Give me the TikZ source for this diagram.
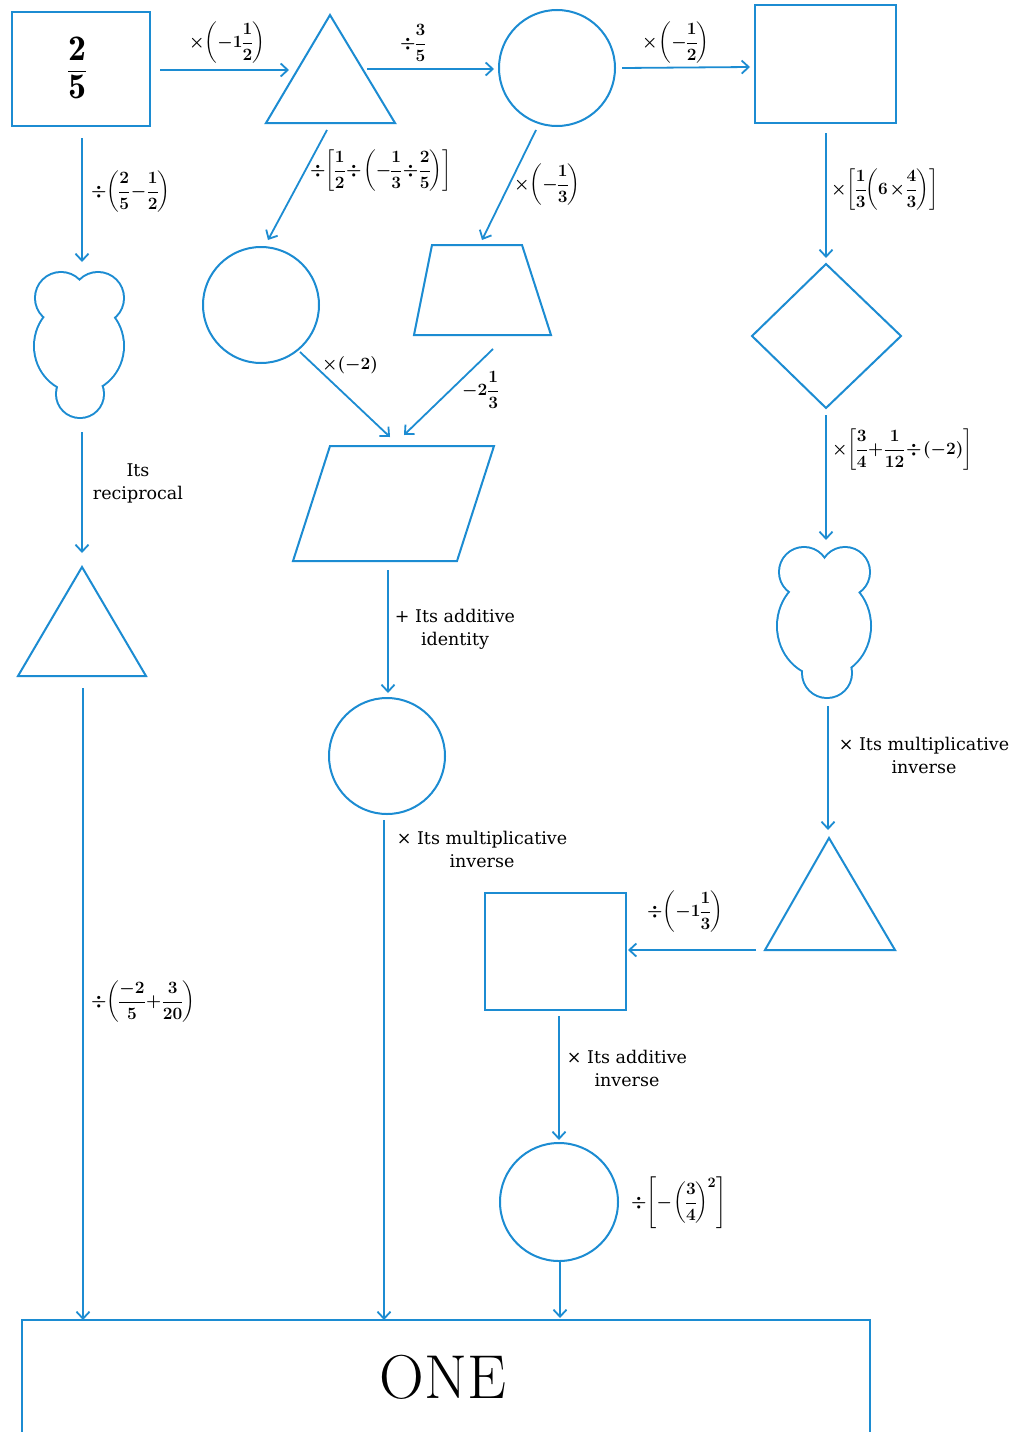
\documentclass[tikz,border=0pt]{standalone}
\usepackage{amsmath}
\usepackage{fontspec}
\newfontfamily\lblfont{DejaVu Serif}
\usetikzlibrary{arrows.meta}
\definecolor{ln}{RGB}{28,140,210}
\newcommand\mtight{\boldmath\medmuskip=1.5mu\thickmuskip=2mu\thinmuskip=1mu\nulldelimiterspace=0pt}
\begin{document}
\begin{tikzpicture}[x=1pt,y=-1pt,
  shp/.style={draw=ln,line width=2pt},
  arr/.style={draw=ln,line width=1.8pt,-{Straight Barb[length=7pt,width=13pt,line width=1.8pt]}},
  lbl/.style={font=\lblfont\fontsize{17.5}{23}\selectfont,align=center,inner sep=0pt},
  mlbl/.style={font=\fontsize{19}{22}\selectfont\mtight,inner sep=0pt,anchor=west}]
\useasboundingbox[fill=white] (0,0) rectangle (1024,1432);

% ---------- shapes ----------
\draw[shp] (12,12) rectangle (150,126);
\node[font=\fontsize{36}{38}\selectfont,inner sep=0pt] (v25) at (77,68) {$\displaystyle\frac{\mathbf{2}}{\mathbf{5}}$};
\draw[shp] (330,15) -- (395,123) -- (266,123) -- cycle;
\draw[shp] (557,68) circle[radius=58];
\draw[shp] (755,5) rectangle (896,123);
\draw[shp] (261,305) circle[radius=58];
\draw[shp] (432,245) -- (522,245) -- (551,335) -- (414,335) -- cycle;
\draw[shp] (826,264) -- (901,336) -- (826,408) -- (752,336) -- cycle;
\draw[shp] (330,446) -- (494,446) -- (457,561) -- (293,561) -- cycle;
\draw[shp] (82,567) -- (146,676) -- (18,676) -- cycle;
\draw[shp] (387,756) circle[radius=58];
\draw[shp] (829,838) -- (895,950) -- (765,950) -- cycle;
\draw[shp] (485,893) rectangle (626,1010);
\draw[shp] (559,1202) circle[radius=59];
\draw[shp] (22,1440) -- (22,1320) -- (870,1320) -- (870,1440);
\node[font=\fontsize{62}{64}\selectfont,inner sep=0pt] (one) at (443,1377) {ONE};

% blobs: stroke the union, then fill its inside
\draw[ln,line width=4pt] (61,298) circle[radius=25] (98,298) circle[radius=25]
  (79,346) ellipse[x radius=44,y radius=46] (80,394) circle[radius=23];
\fill[white] (61,298) circle[radius=25] (98,298) circle[radius=25]
  (79,346) ellipse[x radius=44,y radius=46] (80,394) circle[radius=23];
\draw[ln,line width=4pt] (804,572) circle[radius=24] (845,572) circle[radius=24]
  (824,626) ellipse[x radius=46,y radius=50] (827,673) circle[radius=24];
\fill[white] (804,572) circle[radius=24] (845,572) circle[radius=24]
  (824,626) ellipse[x radius=46,y radius=50] (827,673) circle[radius=24];

% ---------- connector end points ----------
\coordinate (a1s) at (160,70);  \coordinate (a1e) at (289,70);
\coordinate (a2s) at (367,69);  \coordinate (a2e) at (494,69);
\coordinate (a3s) at (622,68);  \coordinate (a3e) at (750,67);
\coordinate (a4s) at (82,138);  \coordinate (a4e) at (82,262);
\coordinate (a5s) at (327,130); \coordinate (a5e) at (268,240);
\coordinate (a6s) at (536,130); \coordinate (a6e) at (482,240);
\coordinate (a7s) at (826,133); \coordinate (a7e) at (826,258);
\coordinate (a8s) at (82,432);  \coordinate (a8e) at (82,553);
\coordinate (a9s) at (300,352); \coordinate (a9e) at (390,437);
\coordinate (a10s) at (493,349); \coordinate (a10e) at (404,435);
\coordinate (a11s) at (826,415); \coordinate (a11e) at (826,540);
\coordinate (a12s) at (388,570); \coordinate (a12e) at (388,693);
\coordinate (a13s) at (828,706); \coordinate (a13e) at (828,830);
\coordinate (a14s) at (83,688);  \coordinate (a14e) at (83,1320);
\coordinate (a15s) at (384,820); \coordinate (a15e) at (384,1320);
\coordinate (a16s) at (756,950); \coordinate (a16e) at (628,950);
\coordinate (a17s) at (559,1016); \coordinate (a17e) at (559,1140);
\coordinate (a18s) at (560,1262); \coordinate (a18e) at (560,1318);

\foreach \i in {1,...,18} \draw[arr] (a\i s) -- (a\i e);

% ---------- labels ----------
\node[mlbl] (l1) at (189,43) {$\times\!\left(-1\dfrac{1}{2}\right)$};
\node[mlbl] (l2) at (400,43) {$\div\dfrac{3}{5}$};
\node[mlbl] (l3) at (642,43) {$\times\left(-\dfrac{1}{2}\right)$};
\node[mlbl] (l4) at (91,192) {$\div\!\left(\dfrac{2}{5}-\dfrac{1}{2}\right)$};
\node[mlbl] (l5) at (310,171) {$\div\!\left[\dfrac{1}{2}\div\left(-\dfrac{1}{3}\div\dfrac{2}{5}\right)\right]$};
\node[mlbl] (l6) at (514,185) {$\times\!\left(-\dfrac{1}{3}\right)$};
\node[mlbl] (l7) at (831,190) {$\times\!\left[\dfrac{1}{3}\!\left(6\times\dfrac{4}{3}\right)\right]$};
\node[lbl] (l8) at (138,483) {Its\\reciprocal};
\node[mlbl] (l9) at (322,365) {$\times(-2)$};
\node[mlbl] (l10) at (462,390) {$-2\,\dfrac{1}{3}$};
\node[mlbl] (l11) at (832,450) {$\times\!\left[\dfrac{3}{4}+\dfrac{1}{12}\div(-2)\right]$};
\node[lbl] (l12) at (455,629) {+ Its additive\\identity};
\node[lbl] (l13) at (924,755) {× Its multiplicative\\inverse};
\node[mlbl] (l14) at (91,1002) {$\div\!\left(\dfrac{-2}{5}+\dfrac{3}{20}\right)$};
\node[lbl] (l15) at (482,849) {× Its multiplicative\\inverse};
\node[mlbl] (l16) at (647,912) {$\div\!\left(-1\dfrac{1}{3}\right)$};
\node[lbl] (l17) at (627,1068) {× Its additive\\inverse};
\node[mlbl] (l18) at (631,1203) {$\div\!\left[-\left(\dfrac{3}{4}\right)^{\!2}\right]$};
\end{tikzpicture}
\end{document}
